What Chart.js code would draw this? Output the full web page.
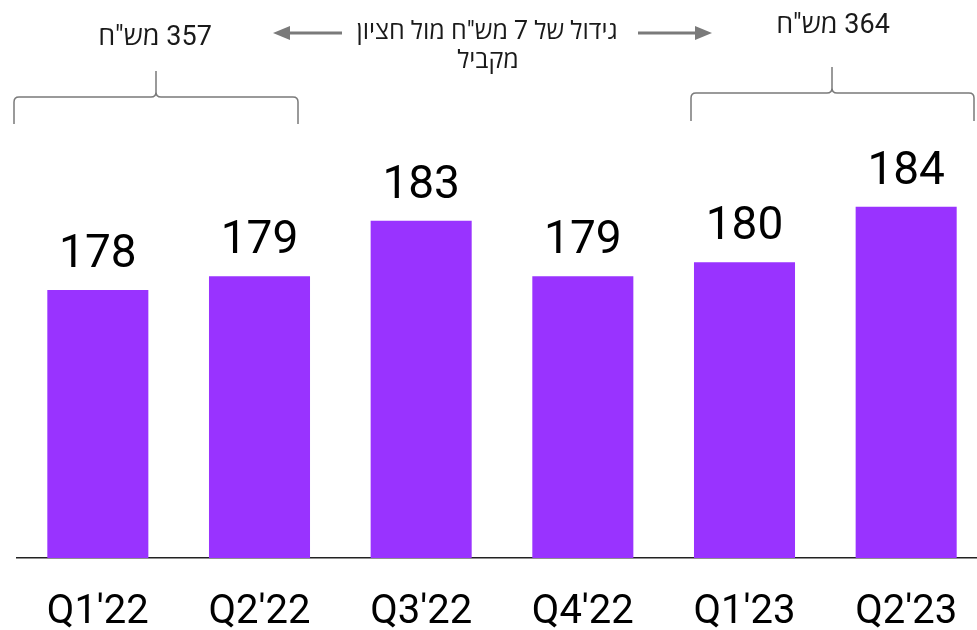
<!DOCTYPE html>
<html lang="he">
<head>
<meta charset="utf-8">
<title>הכנסות רבעוניות</title>
<script src="https://cdn.jsdelivr.net/npm/chart.js@4.4.1/dist/chart.umd.min.js"></script>
<style>
  html, body { margin: 0; padding: 0; background: #fff; overflow: hidden; }
  #wrap { width: 990px; height: 630px; }
</style>
</head>
<body>
<div id="wrap"><canvas id="chart" width="990" height="630"></canvas></div>
<script>
// ----- data -----
const quarters = ["Q1'22", "Q2'22", "Q3'22", "Q4'22", "Q1'23", "Q2'23"];
const revenue = [178, 179, 183, 179, 180, 184];   // מש"ח
const axisMin = 158.7;
const axisMax = 198.9;

// ----- headline notes above the bars -----
const halfTotals = ['357 מש"ח', '364 מש"ח'];
const growthNote = ['גידול של 7 מש"ח מול חציון', 'מקביל'];

const BAR_COLOR = "#9933ff";
const NOTE_GRAY = "#7a7a7a";
const NUM_FONT = "Roboto, 'Open Sans', sans-serif";
const HEB_FONT = "Roboto, 'Open Sans', 'DejaVu Sans', sans-serif";

// curly brace: legs at x1/x2, bar at yH, tip up to yTop at xm
function drawBrace(ctx, x1, x2, xm, yLeg, yH, yTop) {
    const r = 5;
    ctx.save();
    ctx.strokeStyle = NOTE_GRAY;
    ctx.lineWidth = 1.5;
    ctx.beginPath();
    ctx.moveTo(x1, yLeg);
    ctx.lineTo(x1, yH + r);
    ctx.quadraticCurveTo(x1, yH, x1 + r, yH);
    ctx.lineTo(xm - r, yH);
    ctx.quadraticCurveTo(xm, yH, xm, yH - r);
    ctx.lineTo(xm, yTop);
    ctx.moveTo(x2, yLeg);
    ctx.lineTo(x2, yH + r);
    ctx.quadraticCurveTo(x2, yH, x2 - r, yH);
    ctx.lineTo(xm + r, yH);
    ctx.quadraticCurveTo(xm, yH, xm, yH - r);
    ctx.stroke();
    ctx.restore();
}

// horizontal arrow from tail to tip
function drawArrow(ctx, xTail, xTip, y) {
    const dir = xTip > xTail ? 1 : -1;
    const head = 17;
    ctx.save();
    ctx.strokeStyle = NOTE_GRAY;
    ctx.fillStyle = NOTE_GRAY;
    ctx.lineWidth = 3;
    ctx.beginPath();
    ctx.moveTo(xTail, y);
    ctx.lineTo(xTip - dir * head, y);
    ctx.stroke();
    ctx.beginPath();
    ctx.moveTo(xTip, y);
    ctx.lineTo(xTip - dir * head, y - 7);
    ctx.lineTo(xTip - dir * head, y + 7);
    ctx.closePath();
    ctx.fill();
    ctx.restore();
}

const notesPlugin = {
    id: "notes",
    afterDatasetsDraw(chart) {
        const ctx = chart.ctx;

        // value above each bar
        const meta = chart.getDatasetMeta(0);
        ctx.save();
        ctx.fillStyle = "#000";
        ctx.font = "46px " + NUM_FONT;
        ctx.textAlign = "center";
        ctx.textBaseline = "alphabetic";
        meta.data.forEach((bar, i) => {
            ctx.fillText(String(revenue[i]), bar.x, bar.y - 23);
        });
        ctx.restore();

        // half-year braces and totals
        drawBrace(ctx, 14, 298, 156, 124, 97, 71);
        drawBrace(ctx, 691, 974, 832, 121, 93, 67);

        ctx.save();
        ctx.direction = "rtl";
        ctx.textAlign = "center";
        ctx.fillStyle = "#1a1a1a";
        ctx.font = "27px " + HEB_FONT;
        ctx.fillText(halfTotals[0], 155, 45);
        ctx.fillText(halfTotals[1], 833, 33);

        ctx.font = "25px " + HEB_FONT;
        ctx.fillText(growthNote[0], 487, 39);
        ctx.fillText(growthNote[1], 488, 68);
        ctx.restore();

        drawArrow(ctx, 342, 273, 33);
        drawArrow(ctx, 638, 712, 33);
    }
};

new Chart(document.getElementById("chart"), {
    type: "bar",
    data: {
        labels: quarters,
        datasets: [{
            data: revenue,
            backgroundColor: BAR_COLOR,
            borderWidth: 0,
            categoryPercentage: 1,
            barPercentage: 0.625
        }]
    },
    options: {
        responsive: false,
        devicePixelRatio: 1,
        animation: false,
        layout: { padding: { left: 17, right: 3, top: 0, bottom: 0 } },
        plugins: {
            legend: { display: false },
            tooltip: { enabled: false }
        },
        scales: {
            x: {
                grid: { display: false, drawTicks: false },
                border: { display: true, color: "#222", width: 1.5 },
                ticks: {
                    color: "#000",
                    padding: 31,
                    font: { family: NUM_FONT, size: 40 }
                },
                afterFit(scale) { scale.height = 72; }
            },
            y: {
                display: false,
                min: axisMin,
                max: axisMax
            }
        }
    },
    plugins: [notesPlugin]
});
</script>
</body>
</html>
